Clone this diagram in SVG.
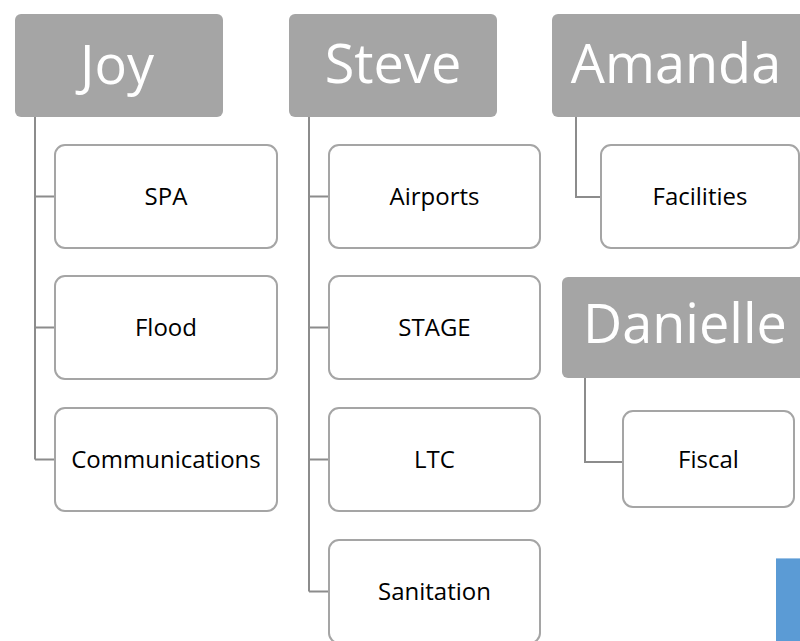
<svg xmlns="http://www.w3.org/2000/svg" width="800" height="641" viewBox="0 0 800 641">
<style>
.hdr{fill:#A5A5A5;}
.ht{font-family:"Open Sans","Liberation Sans",sans-serif;font-size:54px;fill:#FFFFFF;text-anchor:middle;}
.box{fill:#FFFFFF;stroke:#A5A5A5;stroke-width:2;}
.bt{font-family:"Open Sans","Liberation Sans",sans-serif;font-size:24px;fill:#000000;text-anchor:middle;}
.con{fill:none;stroke:#8C8C8C;stroke-width:2;}
</style>
<rect width="800" height="641" fill="#FFFFFF"/>
<g id="connectors">
<path class="con" d="M35,117 V459.5 M35,196.5 H55 M35,327.5 H55 M35,459.5 H55"/>
<path class="con" d="M309,117 V591.5 M309,196.5 H329 M309,327.5 H329 M309,459.5 H329 M309,591.5 H329"/>
<path class="con" d="M576,117 V197 H601"/>
<path class="con" d="M585,378 V462 H623"/>
</g>
<g id="joy"><rect class="hdr" x="15" y="14" width="208" height="103" rx="6"/><text class="ht" x="117" y="84">Joy</text></g>
<g id="steve"><rect class="hdr" x="289" y="14" width="208" height="103" rx="6"/><text class="ht" x="393" y="83">Steve</text></g>
<g id="amanda"><rect class="hdr" x="552" y="14" width="260" height="103" rx="6"/><text class="ht" x="676" y="83">Amanda</text></g>
<g id="danielle"><rect class="hdr" x="562" y="277" width="260" height="101" rx="6"/><text class="ht" x="685" y="343">Danielle</text></g>
<g id="spa"><rect class="box" x="55" y="145" width="222" height="103" rx="10"/><text class="bt" x="166" y="205">SPA</text></g>
<g id="flood"><rect class="box" x="55" y="276" width="222" height="103" rx="10"/><text class="bt" x="166" y="336">Flood</text></g>
<g id="communications"><rect class="box" x="55" y="408" width="222" height="103" rx="10"/><text class="bt" x="166" y="468">Communications</text></g>
<g id="airports"><rect class="box" x="329" y="145" width="211" height="103" rx="10"/><text class="bt" x="434.5" y="205">Airports</text></g>
<g id="stage"><rect class="box" x="329" y="276" width="211" height="103" rx="10"/><text class="bt" x="434.5" y="336">STAGE</text></g>
<g id="ltc"><rect class="box" x="329" y="408" width="211" height="103" rx="10"/><text class="bt" x="434.5" y="468">LTC</text></g>
<g id="sanitation"><rect class="box" x="329" y="540" width="211" height="103" rx="10"/><text class="bt" x="434.5" y="600">Sanitation</text></g>
<g id="facilities"><rect class="box" x="601" y="145" width="198" height="103" rx="10"/><text class="bt" x="700" y="205">Facilities</text></g>
<g id="fiscal"><rect class="box" x="623" y="411" width="171" height="96" rx="10"/><text class="bt" x="708.5" y="468">Fiscal</text></g>
<rect x="776" y="558" width="24" height="83" fill="#5B9BD5"/>
<line x1="776" y1="558.5" x2="800" y2="558.5" stroke="#9DC3E6" stroke-width="1"/>
</svg>
